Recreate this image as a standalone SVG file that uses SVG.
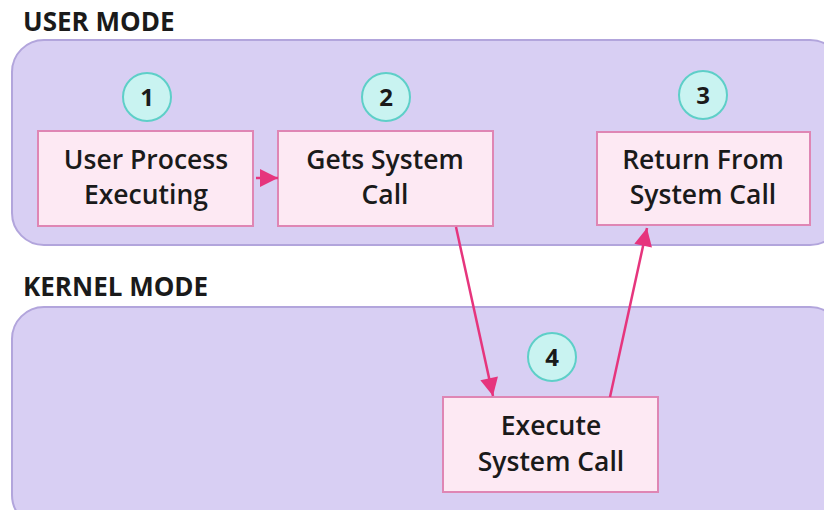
<svg xmlns="http://www.w3.org/2000/svg" width="824" height="510" viewBox="0 0 824 510">
  <defs>
    <style>
      .title { font-family: "Open Sans", "Liberation Sans", sans-serif; font-weight: 700; font-size: 26px; fill: #1a1a1a; }
      .panel { fill: #d8cff3; stroke: #b2a5dc; stroke-width: 2; }
      .box { fill: #fde9f3; stroke: #df86b4; stroke-width: 2; }
      .label { font-family: "Open Sans", "Liberation Sans", sans-serif; font-weight: 600; font-size: 26.5px; fill: #1a1a1a; text-anchor: middle; }
      .badge { fill: #c9f3f1; stroke: #5ecfc8; stroke-width: 2; }
      .num { font-family: "Open Sans", "Liberation Sans", sans-serif; font-weight: 700; font-size: 24px; fill: #1a1a1a; text-anchor: middle; }
      .link { fill: none; stroke: #e6357d; stroke-width: 2.5; }
    </style>
    <marker id="arrow" viewBox="0 0 10 10" refX="10" refY="5" markerWidth="20" markerHeight="18" markerUnits="userSpaceOnUse" orient="auto">
      <path d="M0,0 L10,5 L0,10 z" fill="#e6357d"/>
    </marker>
  </defs>

  <rect width="824" height="510" fill="#ffffff"/>

  <!-- mode panels -->
  <g id="user-mode">
    <rect class="panel" x="12" y="40" width="830" height="205" rx="32"/>
    <text class="title" x="23" y="31">USER MODE</text>
  </g>
  <g id="kernel-mode">
    <rect class="panel" x="12" y="307" width="830" height="220" rx="32"/>
    <text class="title" x="23" y="296">KERNEL MODE</text>
  </g>

  <!-- step nodes -->
  <g id="step1">
    <circle class="badge" cx="147" cy="97" r="24"/>
    <text class="num" x="147" y="106">1</text>
    <rect class="box" x="38" y="131" width="215" height="95"/>
    <text class="label" x="146" y="169">User Process</text>
    <text class="label" x="146" y="204">Executing</text>
  </g>
  <g id="step2">
    <circle class="badge" cx="386" cy="97" r="24"/>
    <text class="num" x="386" y="106">2</text>
    <rect class="box" x="278" y="131" width="215" height="95"/>
    <text class="label" x="385" y="169">Gets System</text>
    <text class="label" x="385" y="204">Call</text>
  </g>
  <g id="step3">
    <circle class="badge" cx="703" cy="95" r="24"/>
    <text class="num" x="703" y="104">3</text>
    <rect class="box" x="597" y="132" width="213" height="93"/>
    <text class="label" x="703" y="169">Return From</text>
    <text class="label" x="703" y="204">System Call</text>
  </g>
  <g id="step4">
    <circle class="badge" cx="552" cy="357" r="24"/>
    <text class="num" x="552" y="366">4</text>
    <rect class="box" x="443" y="397" width="215" height="95"/>
    <text class="label" x="551" y="435">Execute</text>
    <text class="label" x="551" y="471">System Call</text>
  </g>

  <!-- connectors -->
  <g id="connectors">
    <path class="link" d="M256,178 L278,178" marker-end="url(#arrow)"/>
    <path class="link" d="M456,227 L493,396" marker-end="url(#arrow)"/>
    <path class="link" d="M610,397 L647,228" marker-end="url(#arrow)"/>
  </g>
</svg>
